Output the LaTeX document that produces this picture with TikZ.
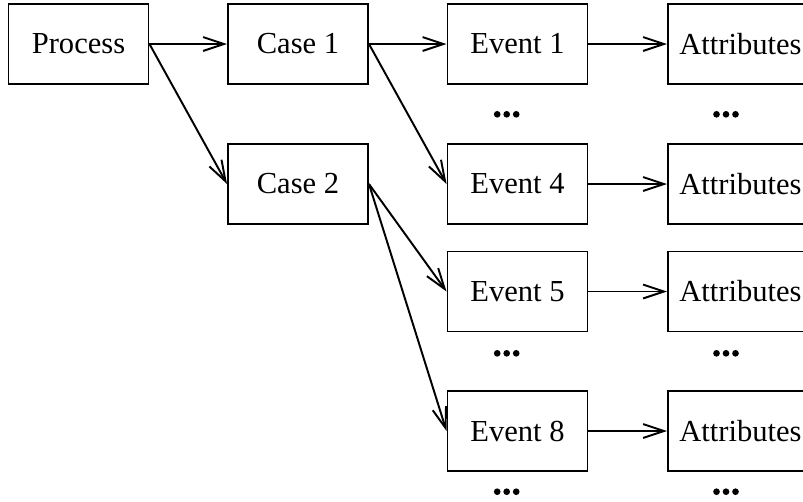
\documentclass[tikz,border=0pt]{standalone}
\usepackage{fontspec}
\setmainfont{Liberation Serif}
\usetikzlibrary{arrows.meta}

\begin{document}
\begin{tikzpicture}[x=0.36pt, y=-0.36pt,
  box/.style={draw, line width=0.7pt, minimum width=50.4pt, minimum height=28.8pt,
              inner sep=0pt, font=\fontsize{11}{13}\selectfont},
  attrbox/.style={box, anchor=west, minimum width=52.2pt},
  link/.style={line width=0.7pt,
               -{Straight Barb[length=7.5pt, width=5pt, line width=0.7pt]}},
]
\useasboundingbox (0,0) rectangle (803,501);

% process and cases
\node[box] (proc) at (78.5,44) {Process};
\node[box] (c1) at (298,44) {Case 1};
\node[box] (c2) at (298,184) {Case 2};

% events
\node[box] (e1) at (517.5,44) {Event 1};
\node[box] (e4) at (517.5,184) {Event 4};
\node[box] (e5) at (517.5,291.5) {Event 5};
\node[box] (e8) at (517.5,431) {Event 8};

% attributes (running off the right edge)
\node[attrbox] (a1) at (667,44) {Attributes};
\node[attrbox] (a4) at (667,184) {Attributes};
\node[attrbox] (a5) at (667,291.5) {Attributes};
\node[attrbox] (a8) at (667,431) {Attributes};

% connectors
\draw[link] (proc.east) -- (c1.west);
\draw[link] (proc.east) -- (c2.west);
\draw[link] (c1.east) -- (e1.west);
\draw[link] (c1.east) -- (e4.west);
\draw[link] (c2.east) -- (e5.west);
\draw[link] (c2.east) -- (e8.west);
\draw[link] (e1.east) -- (a1.west);
\draw[link] (e4.east) -- (a4.west);
\draw[link] (e5.east) -- (a5.west);
\draw[link] (e8.east) -- (a8.west);

% ellipses below the event and attribute columns
\foreach \cx in {506.7, 726}
  \foreach \cy in {114.3, 353.3, 491.7}
    \foreach \dx in {-9.5, 0, 9.5}
      \fill (\cx+\dx, \cy) circle[radius=1.2pt];
\end{tikzpicture}
\end{document}
